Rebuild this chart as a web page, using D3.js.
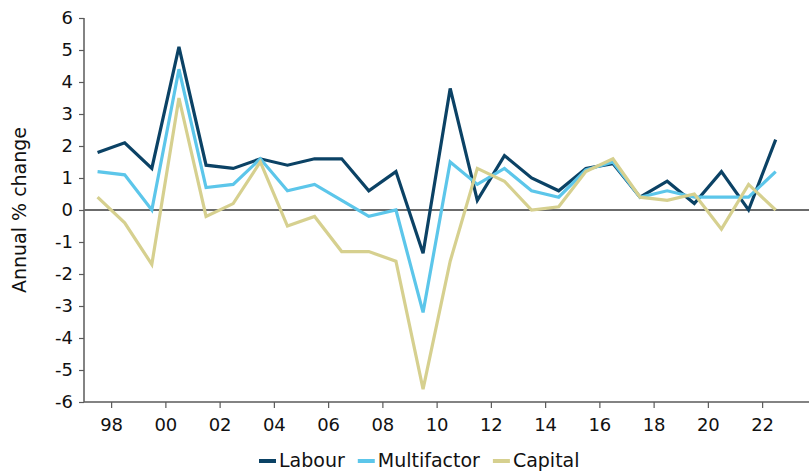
<!DOCTYPE html>
<html>
<head>
<meta charset="utf-8">
<script src="https://cdn.jsdelivr.net/npm/d3@7/dist/d3.min.js"></script>
<style>
  html, body { margin: 0; padding: 0; background: #fff; overflow: hidden; }
  svg { display: block; font-family: "DejaVu Sans", Verdana, sans-serif; }
</style>
</head>
<body>
<svg id="chart" width="809" height="472"></svg>
<script>
const years = [1997,1998,1999,2000,2001,2002,2003,2004,2005,2006,2007,2008,2009,2010,2011,2012,2013,2014,2015,2016,2017,2018,2019,2020,2021,2022];
const labour      = [1.8, 2.1, 1.3, 5.1, 1.4, 1.3, 1.6, 1.4, 1.6, 1.6, 0.6, 1.2, -1.35, 3.8, 0.3, 1.7, 1.0, 0.6, 1.3, 1.45, 0.4, 0.9, 0.2, 1.2, 0.0, 2.2];
const multifactor = [1.2, 1.1, 0.0, 4.4, 0.7, 0.8, 1.6, 0.6, 0.8, 0.3, -0.2, 0.0, -3.2, 1.5, 0.8, 1.3, 0.6, 0.4, 1.25, 1.5, 0.4, 0.6, 0.4, 0.4, 0.4, 1.2];
const capital     = [0.4, -0.4, -1.7, 3.5, -0.2, 0.2, 1.5, -0.5, -0.2, -1.3, -1.3, -1.6, -5.6, -1.6, 1.3, 0.9, 0.0, 0.1, 1.2, 1.6, 0.4, 0.3, 0.5, -0.6, 0.8, 0.0];
const seriesNames = ["Labour", "Multifactor", "Capital"];
const seriesColors = ["#0b4265", "#5cc6ea", "#d6d08f"];
const yTicks = [-6,-5,-4,-3,-2,-1,0,1,2,3,4,5,6];
const xTicks = [1998,2000,2002,2004,2006,2008,2010,2012,2014,2016,2018,2020,2022];
const yTitle = "Annual % change";

const svg = d3.select("#chart");
const x = d3.scaleLinear().domain([1997, 2024]).range([84, 84 + 27 * 27.125]);
const y = d3.scaleLinear().domain([-6, 6]).range([402, 18]);
const axisColor = "#5a5a5a";
const fontSize = 18;

// Y axis
const yAxis = svg.append("g").attr("transform", "translate(84,0)")
  .call(d3.axisLeft(y).tickValues(yTicks).tickSize(5).tickPadding(6).tickFormat(d => d));
yAxis.select(".domain").attr("stroke", axisColor).attr("stroke-width", 1.5).attr("d", `M-0,${y(6)}V${y(-6)}`);
yAxis.selectAll(".tick line").attr("stroke", axisColor).attr("stroke-width", 1.2);
yAxis.selectAll(".tick text").attr("fill", "#111").style("font-size", fontSize + "px").attr("font-family", "DejaVu Sans, sans-serif");

// X axis
const xAxis = svg.append("g").attr("transform", `translate(0,${y(-6)})`)
  .call(d3.axisBottom(x).tickValues(xTicks).tickSize(6).tickPadding(10)
    .tickFormat(d => String(d % 100).padStart(2, "0")));
xAxis.select(".domain").attr("stroke", axisColor).attr("stroke-width", 1.5).attr("d", `M84,0H809`);
xAxis.selectAll(".tick line").attr("stroke", axisColor).attr("stroke-width", 1.2);
xAxis.selectAll(".tick text").attr("fill", "#111").style("font-size", fontSize + "px").attr("font-family", "DejaVu Sans, sans-serif");

// Zero line
svg.append("line")
  .attr("x1", 84).attr("x2", 809).attr("y1", y(0)).attr("y2", y(0))
  .attr("stroke", "#6b6b6b").attr("stroke-width", 1.8);

// Lines
const data = [labour, multifactor, capital];
const line = d3.line().x((d, i) => x(years[i] + 0.5)).y(d => y(d));
data.forEach((vals, k) => {
  svg.append("path")
    .datum(vals)
    .attr("d", line)
    .attr("fill", "none")
    .attr("stroke", seriesColors[k])
    .attr("stroke-width", 3.2)
    .attr("stroke-linejoin", "miter");
});

// Y title
svg.append("text")
  .attr("transform", `translate(26,210) rotate(-90)`)
  .attr("text-anchor", "middle")
  .attr("fill", "#111")
  .style("font-size", "19px")
  .text(yTitle);

// Legend
const lg = svg.append("g");
let lx = 259;
const ly = 461;
seriesNames.forEach((name, k) => {
  lg.append("line").attr("x1", lx).attr("x2", lx + 17).attr("y1", ly).attr("y2", ly)
    .attr("stroke", seriesColors[k]).attr("stroke-width", 4);
  const t = lg.append("text").attr("x", lx + 20).attr("y", ly + 6)
    .attr("fill", "#111").style("font-size", "19px").text(name);
  lx = lx + 20 + t.node().getComputedTextLength() + 13;
});
</script>
</body>
</html>
